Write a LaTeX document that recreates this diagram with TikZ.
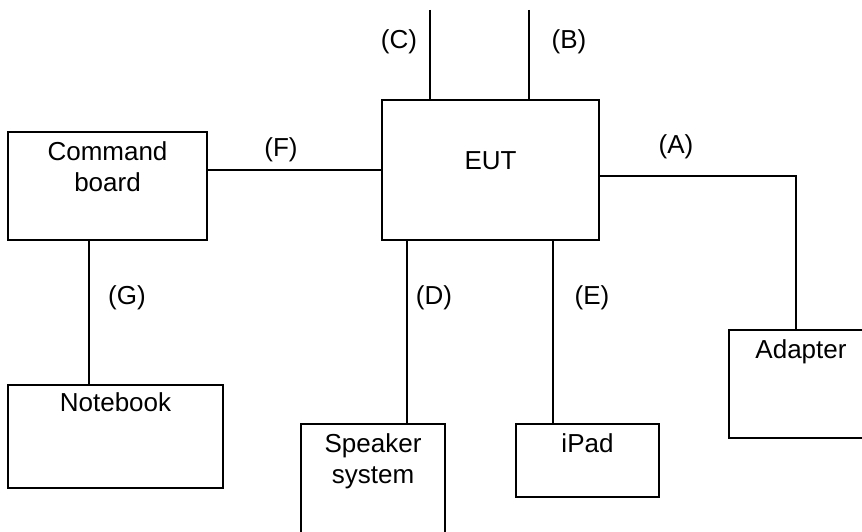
\documentclass[tikz,border=0pt]{standalone}
\usepackage{fontspec}
\setmainfont{Liberation Sans}
\usetikzlibrary{positioning}

\tikzset{
  unit/.style={rectangle, draw=black, line width=1.5pt, anchor=north west, inner sep=0pt, outer sep=0pt},
  tag/.style={anchor=north, inner sep=0pt, align=center, yshift=-9pt}
}

\begin{document}
\begin{tikzpicture}[x=1pt, y=-1pt, line width=1.5pt, font=\fontsize{26}{31}\selectfont]
  \useasboundingbox (0,0) rectangle (862,532);

  \node[unit, minimum width=217pt, minimum height=140pt, label={[tag, yshift=-42pt]north:EUT}] (eut) at (382,100) {};
  \node[unit, minimum width=199pt, minimum height=108pt, label={[tag]north:Command\\board}] (cmd) at (8,132) {};
  \node[unit, minimum width=215pt, minimum height=103pt, label={[tag, yshift=2pt]north:Notebook}] (nb) at (8,385) {};
  \node[unit, minimum width=144pt, minimum height=130pt, label={[tag]north:Speaker\\system}] (spk) at (301,424) {};
  \node[unit, minimum width=143pt, minimum height=73pt, label={[tag]north:iPad}] (ipad) at (516,424) {};
  \node[unit, minimum width=134pt, minimum height=108pt, label={[tag, xshift=5pt]north:Adapter}] (adp) at (729,330) {};

  \coordinate (ctop) at (430,10);
  \coordinate (btop) at (529,10);

  \draw (ctop) -- (ctop |- eut.north);
  \draw (btop) -- (btop |- eut.north);
  \draw (eut.west) -- (eut.west -| cmd.east);
  \draw ([yshift=-6pt]eut.east) -| (adp.north);
  \draw ([xshift=-83.5pt]eut.south) -- ([xshift=-83.5pt]eut.south |- spk.north);
  \draw ([xshift=62.5pt]eut.south) -- ([xshift=62.5pt]eut.south |- ipad.north);
  \draw ([xshift=-18.5pt]cmd.south) -- ([xshift=-18.5pt]cmd.south |- nb.north);

  \node (lC) at (399,42) {(C)};
  \node (lB) at (569,42) {(B)};
  \node (lF) at (281,150) {(F)};
  \node (lA) at (676,147) {(A)};
  \node (lG) at (127,298) {(G)};
  \node (lD) at (434,298) {(D)};
  \node (lE) at (592,298) {(E)};
\end{tikzpicture}
\end{document}
